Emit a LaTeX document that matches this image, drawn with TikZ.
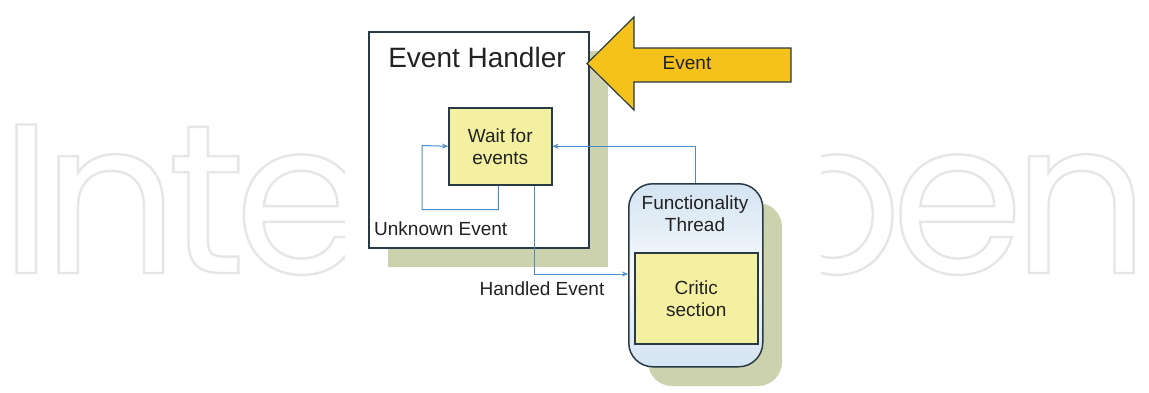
\documentclass[tikz,border=0pt]{standalone}
\usepackage{fontspec}
\setmainfont{Liberation Sans}
\newfontfamily\wmfont[LetterSpace=-5]{Poppins}
\usetikzlibrary{arrows.meta}
\definecolor{boxline}{HTML}{2A3A45}
\definecolor{boxyellow}{HTML}{F4F0A2}
\definecolor{arrowyellow}{HTML}{F5C21B}
\definecolor{shadowgreen}{HTML}{CDD2AE}
\definecolor{linkblue}{HTML}{4A8CC8}
\definecolor{textc}{HTML}{222222}
\definecolor{fttop}{HTML}{D4E4F2}
\definecolor{ftmid}{HTML}{F6F9FC}
\definecolor{wmgray}{HTML}{E6E6E6}
\begin{document}
\begin{tikzpicture}[x=1pt,y=-1pt,
  yellowbox/.style={draw=boxline, line width=1.5pt, fill=boxyellow, align=center,
    font=\fontsize{19}{22}\selectfont, text=textc, inner sep=0},
  conn/.style={draw=linkblue, line width=1pt, -{Stealth[length=6pt,width=5pt]}},
  lbl/.style={font=\fontsize{19}{22}\selectfont, text=textc, inner sep=0, align=center},
  wmark/.style={inner sep=0, text=wmgray, font=\wmfont\fontsize{213}{213}\selectfont}
]
\useasboundingbox (0,0) rectangle (1149,392);
\fill[white] (0,0) rectangle (1149,392);
% watermark (outlined letters)
\node[wmark, anchor=base west] (wml) at (0,273)
  {\special{pdf:code 1 Tr 2.4 w}Inte\special{pdf:code 0 Tr 1 w}};
\node[wmark, anchor=base east] (wmr) at (1149,273)
  {\special{pdf:code 1 Tr 2.4 w}pen\special{pdf:code 0 Tr 1 w}};
\fill[white] (345,0) rectangle (821,392);
% shadows
\fill[shadowgreen] (388,51) rectangle (608,267);
\fill[shadowgreen, rounded corners=24pt] (648,203) rectangle (782,386);
% Event handler box
\node[draw=boxline, line width=1.5pt, fill=white, minimum width=220pt, minimum height=216pt,
  anchor=north west, inner sep=0] (eh) at (368,31) {};
\node[font=\fontsize{28}{32}\selectfont, text=textc, inner sep=0] (ehl) at (477,57) {Event Handler};
\node[yellowbox, minimum width=103pt, minimum height=77pt, anchor=north west] (wait) at (448,107) {Wait for\\events};
% Functionality thread
\node[draw=boxline, line width=1.5pt, rounded corners=24pt, minimum width=134pt, minimum height=183pt,
  anchor=north west, top color=fttop, bottom color=fttop, middle color=ftmid, inner sep=0] (ft) at (628,183) {};
\node[lbl] (ftl) at (695,214) {Functionality\\Thread};
\node[yellowbox, minimum width=123pt, minimum height=91pt, anchor=north west] (crit) at (634,252) {Critic\\section};
% Event arrow
\draw[draw=boxline, line width=1.2pt, fill=arrowyellow, line join=miter]
  (587,63.5) -- (634,17) -- (634,48) -- (791,48) -- (791,82) -- (634,82) -- (634,110) -- cycle;
\node[lbl] (ev) at (687,63) {Event};
% connectors
\draw[conn] ([xshift=-2pt]wait.south) -- ++(0,24) -| (422,145.5) -- (wait.west);
\draw[conn] ([xshift=-18pt]wait.south east) |- (ft.west |- 0,274);
\draw[conn] (ft.north) |- (wait.east);
% labels
\node[lbl, anchor=west] (ue) at (374,229) {Unknown Event};
\node[lbl] (he) at (542,289) {Handled Event};
\end{tikzpicture}
\end{document}
